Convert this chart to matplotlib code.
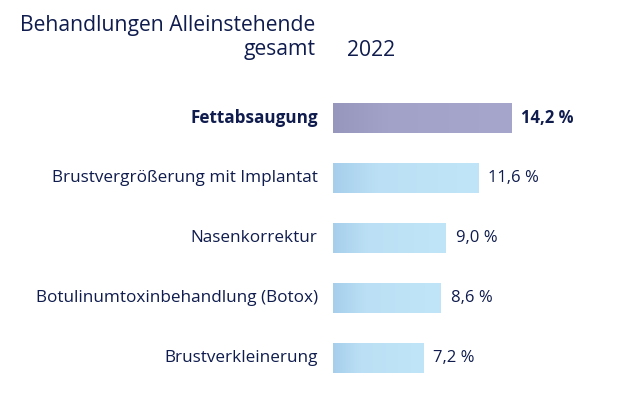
import matplotlib.pyplot as plt
import numpy as np
from matplotlib.colors import LinearSegmentedColormap

plt.rcParams['font.family'] = ['Open Sans', 'DejaVu Sans']

# data
treatments = ['Fettabsaugung', 'Brustvergrößerung mit Implantat', 'Nasenkorrektur',
              'Botulinumtoxinbehandlung (Botox)', 'Brustverkleinerung']
shares = [14.2, 11.6, 9.0, 8.6, 7.2]
value_labels = ['14,2 %', '11,6 %', '9,0 %', '8,6 %', '7,2 %']

navy = '#0f1c4d'
W, H = 623, 399
fig = plt.figure(figsize=(W / 100, H / 100), dpi=100)
ax = fig.add_axes([333 / W, (H - 388) / H, 250.8 / W, 300 / H])
ax.axis('off')

# subtle left-to-right shading on the bars
purple = LinearSegmentedColormap.from_list('p', [(0, '#9796bd'), (0.3, '#a2a1c8'), (1, '#a6a5cc')])
blue = LinearSegmentedColormap.from_list('b', [(0, '#a7cfec'), (0.3, '#bbe0f5'), (1, '#c0e5f8')])
grad = np.linspace(0, 1, 64).reshape(1, -1)

for i, (name, v, lab) in enumerate(zip(treatments, shares, value_labels)):
    cmap = purple if i == 0 else blue
    ax.imshow(grad, cmap=cmap, aspect='auto', extent=(0, v, i + 0.25, i - 0.25),
              interpolation='bicubic', zorder=2)
    weight = 'bold' if i == 0 else 'normal'
    ax.annotate(lab, (v, i), xytext=(7, 0), textcoords='offset points',
                va='center', ha='left', fontsize=12, color=navy, fontweight=weight)
    ax.annotate(name, (0, i), xytext=(-11, 0), textcoords='offset points',
                va='center', ha='right', fontsize=12.3, color=navy, fontweight=weight)

ax.set_xlim(0, 20)
ax.set_ylim(4.5, -0.5)

fig.text(20 / W, 1 - 25 / H, 'Behandlungen Alleinstehende', fontsize=15.2, color=navy,
         ha='left', va='center')
fig.text(316 / W, 1 - 50 / H, 'gesamt', fontsize=15.2, color=navy, ha='right', va='center')
fig.text(347 / W, 1 - 50 / H, '2022', fontsize=15.2, color=navy, ha='left', va='center')

fig.savefig('out.png', dpi=100)
